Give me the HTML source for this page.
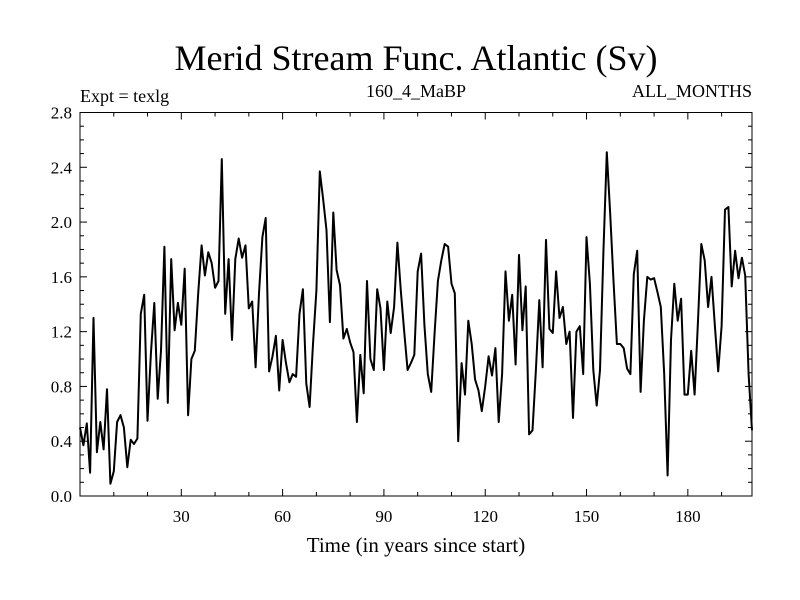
<!DOCTYPE html>
<html><head><meta charset="utf-8"><style>
html,body{margin:0;padding:0;background:#fff;}
svg{display:block;}
.serif{font-family:"Liberation Serif",serif;}
.sans{font-family:"Liberation Sans",sans-serif;}
</style></head><body>
<svg id="chart" width="800" height="600" viewBox="0 0 800 600">
<rect width="800" height="600" fill="#fff"/>
<text x="416" y="70" text-anchor="middle" class="serif" font-size="36">Merid Stream Func. Atlantic (Sv)</text>
<text x="80" y="102" class="serif" font-size="18">Expt = texlg</text>
<text x="416" y="97" text-anchor="middle" class="serif" font-size="18">160_4_MaBP</text>
<text x="752" y="97" text-anchor="end" class="serif" font-size="18">ALL_MONTHS</text>
<text x="416" y="552" text-anchor="middle" class="serif" font-size="21">Time (in years since start)</text>
<g id="axes"></g>
<g id="series"></g>
<rect x="80" y="112.5" width="672" height="383.5" fill="none" stroke="#000" stroke-width="1"/>
</svg>
<script>
const yMajorTicks = [0.0, 0.4, 0.8, 1.2, 1.6, 2.0, 2.4, 2.8];
const yTickLabels = ["0.0","0.4","0.8","1.2","1.6","2.0","2.4","2.8"];
const xMajorTicks = [30, 60, 90, 120, 150, 180];
const xTickLabels = ["30","60","90","120","150","180"];
const values = [
0.50,0.37,0.53,0.17,1.30,0.32,0.54,0.34,0.78,0.09,
0.18,0.54,0.59,0.50,0.21,0.41,0.38,0.42,1.33,1.47,
0.55,1.04,1.41,0.71,1.06,1.82,0.68,1.73,1.21,1.41,
1.25,1.66,0.59,1.00,1.06,1.48,1.83,1.61,1.78,1.70,
1.52,1.57,2.46,1.33,1.73,1.14,1.73,1.88,1.74,1.83,
1.37,1.42,0.94,1.48,1.89,2.03,0.91,1.02,1.17,0.77,
1.14,0.97,0.83,0.89,0.87,1.33,1.51,0.82,0.65,1.11,
1.50,2.37,2.17,1.94,1.27,2.07,1.65,1.54,1.15,1.22,
1.12,1.05,0.54,1.03,0.75,1.57,1.00,0.92,1.51,1.37,
0.92,1.42,1.19,1.38,1.85,1.50,1.20,0.92,0.97,1.03,
1.64,1.77,1.25,0.89,0.76,1.19,1.57,1.72,1.84,1.82,
1.55,1.48,0.40,0.97,0.74,1.28,1.11,0.85,0.77,0.62,
0.80,1.02,0.88,1.08,0.54,0.89,1.64,1.28,1.47,0.96,
1.76,1.21,1.53,0.45,0.48,0.92,1.43,0.94,1.87,1.22,
1.19,1.64,1.30,1.38,1.11,1.20,0.57,1.20,1.24,0.89,
1.89,1.55,0.92,0.66,0.92,1.78,2.51,2.06,1.57,1.11,
1.11,1.08,0.93,0.89,1.62,1.79,0.76,1.28,1.60,1.58,
1.59,1.49,1.38,0.89,0.15,1.14,1.55,1.28,1.44,0.74,
0.74,1.06,0.74,1.28,1.84,1.72,1.38,1.60,1.24,0.91,
1.24,2.09,2.11,1.53,1.79,1.59,1.74,1.61,0.89,0.48
];
const NS='http://www.w3.org/2000/svg';
const L=80,R=752,T=112.5,B=496,XMAX=199,YMAX=2.8;
function xs(t){return L+(R-L)*t/XMAX;}
function ys(v){return B-(B-T)*v/YMAX;}
const axes=document.getElementById('axes');
function ln(x1,y1,x2,y2,name){const e=document.createElementNS(NS,'line');
e.setAttribute('x1',x1);e.setAttribute('y1',y1);e.setAttribute('x2',x2);e.setAttribute('y2',y2);
e.setAttribute('stroke','#000');e.setAttribute('stroke-width','1');


axes.appendChild(e);}
for(let v=0.1;v<YMAX-0.01;v+=0.1){const y=ys(v);const maj=Math.abs(v/0.4-Math.round(v/0.4))<0.01;const len=maj?7:4;
ln(L,y,L+len,y,'y-tick');ln(R,y,R-len,y,'y-tick-right');}
for(let t=10;t<XMAX;t+=10){const x=xs(t);const maj=t%30===0;const len=maj?7:4;
ln(x,B,x,B-len,'x-tick');ln(x,T,x,T+len,'x-tick-top');}
yMajorTicks.forEach((v,i)=>{const e=document.createElementNS(NS,'text');
e.setAttribute('x',L-8);e.setAttribute('y',ys(v)+6);e.setAttribute('text-anchor','end');
e.setAttribute('font-size','17');e.setAttribute('class','serif');e.textContent=yTickLabels[i];


axes.appendChild(e);});
xMajorTicks.forEach((t,i)=>{const e=document.createElementNS(NS,'text');
e.setAttribute('x',xs(t));e.setAttribute('y',B+26);e.setAttribute('text-anchor','middle');
e.setAttribute('font-size','17');e.setAttribute('class','serif');e.textContent=xTickLabels[i];


axes.appendChild(e);});
const p=document.createElementNS(NS,'polyline');
p.setAttribute('points',values.map((v,i)=>xs(i).toFixed(1)+','+ys(v).toFixed(1)).join(' '));
p.setAttribute('fill','none');p.setAttribute('stroke','#000');p.setAttribute('stroke-width','2');p.setAttribute('stroke-linejoin','round');


document.getElementById('series').appendChild(p);
</script>
</body></html>
